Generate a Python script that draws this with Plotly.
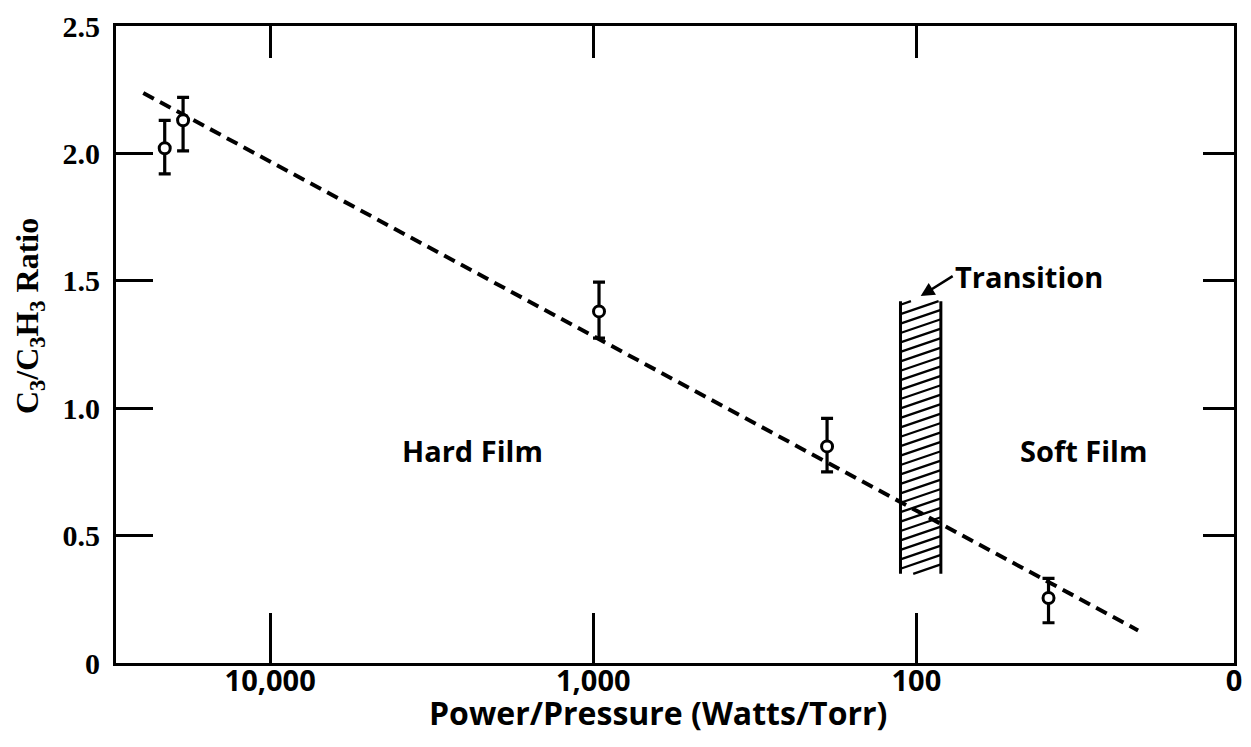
import math
import plotly.graph_objects as go

# Measured C3/C3H3 ratio against discharge power/pressure
power_pressure = [21200, 18600, 960, 189, 39]          # Watts/Torr
ratio = [2.02, 2.13, 1.38, 0.85, 0.255]
err_plus = [0.11, 0.09, 0.115, 0.11, 0.077]
err_minus = [0.10, 0.12, 0.105, 0.10, 0.097]

# Dashed trend line end points
trend_x = [24700, 20.6]
trend_y = [2.237, 0.128]

# Transition band (hard -> soft film)
transition_x = [112.0, 84.0]
transition_y = [0.35, 1.42]
hatch_spacing = 0.037
hatch_rise = 0.054

# Axis ranges and ticks
x_bounds = [30000, 10.4]
x_tickvals = [10000, 1000, 100, 10.4]
x_ticktext = ["10,000", "1,000", "100", "0"]
y_bounds = [0, 2.5]
y_tickvals = [0, 0.5, 1.0, 1.5, 2.0, 2.5]
y_ticktext = ["0", "0.5", "1.0", "1.5", "2.0", "2.5"]

SANS = "Open Sans"
SERIF = "Liberation Serif"

fig = go.Figure()

# Hatched transition band: "/" lines clipped to the band
lx0, lx1 = math.log10(transition_x[0]), math.log10(transition_x[1])
hx, hy = [], []
yb, yt = transition_y
k = 0
while True:
    yl = yb - hatch_rise + k * hatch_spacing
    if yl > yt:
        break
    t0 = max(0.0, (yb - yl) / hatch_rise)
    t1 = min(1.0, (yt - yl) / hatch_rise)
    if t0 < t1:
        for t in (t0, t1):
            hx.append(10 ** (lx0 + t * (lx1 - lx0)))
            hy.append(yl + t * hatch_rise)
        hx.append(None)
        hy.append(None)
    k += 1
fig.add_trace(go.Scatter(x=hx, y=hy, mode="lines",
                         line=dict(color="black", width=2.3),
                         hoverinfo="skip", showlegend=False))
for xv in transition_x:
    fig.add_trace(go.Scatter(x=[xv, xv], y=transition_y, mode="lines",
                             line=dict(color="black", width=3),
                             hoverinfo="skip", showlegend=False))

# Trend line
fig.add_trace(go.Scatter(x=trend_x, y=trend_y, mode="lines",
                         line=dict(color="black", width=4, dash="12px,7px"),
                         showlegend=False))

# Data points with error bars
fig.add_trace(go.Scatter(
    x=power_pressure, y=ratio, mode="markers",
    marker=dict(symbol="circle", size=11, color="white",
                line=dict(color="black", width=3)),
    error_y=dict(type="data", symmetric=False, array=err_plus,
                 arrayminus=err_minus, color="black", thickness=3.2, width=6),
    showlegend=False))

# Region labels
lbl_font = dict(family=SANS, size=29, color="black", weight="bold")
fig.add_annotation(x=math.log10(2360), y=0.835, text="Hard Film",
                   showarrow=False, font=lbl_font)
fig.add_annotation(x=math.log10(30.5), y=0.835, text="Soft Film",
                   showarrow=False, font=lbl_font)
fig.add_annotation(x=math.log10(math.sqrt(transition_x[0] * transition_x[1])),
                   y=transition_y[1] + 0.02, text="Transition",
                   showarrow=True, ax=32, ay=-20, xanchor="left",
                   arrowhead=2, arrowsize=1.1, arrowwidth=2.5,
                   arrowcolor="black", font=lbl_font)

# Axis titles
fig.add_annotation(xref="paper", yref="paper", x=0.485, y=-0.0775,
                   xanchor="center", yanchor="middle",
                   text="Power/Pressure (Watts/Torr)",
                   showarrow=False, font=dict(family=SANS, size=32,
                                              color="black", weight="bold"))
fig.add_annotation(xref="paper", yref="paper", x=-0.0773, y=0.544,
                   xanchor="center", yanchor="middle",
                   text="C<sub>3</sub>/C<sub>3</sub>H<sub>3</sub> Ratio",
                   textangle=-90, showarrow=False,
                   font=dict(family=SERIF, size=32, color="black",
                             weight="bold"))

xr = [math.log10(x_bounds[0]), math.log10(x_bounds[1])]
fig.update_layout(
    width=1251, height=747,
    margin=dict(l=116, r=9, t=16, b=84),
    paper_bgcolor="white", plot_bgcolor="white",
    xaxis=dict(type="log", range=xr, tickvals=x_tickvals, ticktext=x_ticktext,
               ticks="inside", ticklen=50, tickwidth=2.5, tickcolor="black",
               showline=True, linewidth=3, linecolor="black",
               showgrid=False, zeroline=False, ticklabelstandoff=-10,
               ticklabeloverflow="allow",
               tickfont=dict(family=SANS, size=29, color="black",
                             weight="bold")),
    yaxis=dict(range=y_bounds, tickvals=y_tickvals, ticktext=y_ticktext,
               ticks="inside", ticklen=37, tickwidth=2.5, tickcolor="black",
               showline=True, linewidth=3, linecolor="black",
               showgrid=False, zeroline=False, ticklabelstandoff=7,
               ticklabeloverflow="allow",
               tickfont=dict(family=SERIF, size=30, color="black",
                             weight="bold")),
    xaxis2=dict(type="log", range=xr, overlaying="x", side="top",
                tickvals=x_tickvals[:3], ticks="inside", ticklen=32,
                tickwidth=2.5, tickcolor="black", showticklabels=False,
                showline=True, linewidth=3, linecolor="black",
                showgrid=False, zeroline=False),
    yaxis2=dict(range=y_bounds, overlaying="y", side="right",
                tickvals=y_tickvals[1:5], ticks="inside", ticklen=31,
                tickwidth=2.5, tickcolor="black", showticklabels=False,
                showline=True, linewidth=3, linecolor="black",
                showgrid=False, zeroline=False),
)
# Empty trace to attach the mirrored top/right axes
fig.add_trace(go.Scatter(x=[], y=[], xaxis="x2", yaxis="y2",
                         showlegend=False, hoverinfo="skip"))

fig.write_html("out.html")
